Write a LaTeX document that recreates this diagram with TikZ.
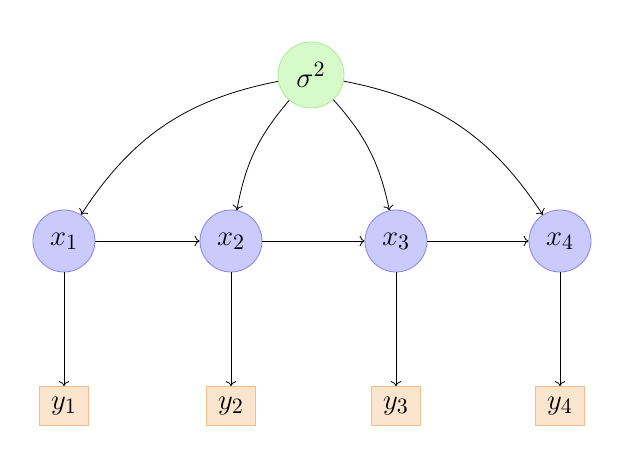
\documentclass[tikz,border=0pt]{standalone}
\usetikzlibrary{arrows.meta}
\definecolor{sfill}{RGB}{214,250,202}
\definecolor{sdraw}{RGB}{172,234,150}
\definecolor{xfill}{RGB}{202,202,252}
\definecolor{xdraw}{RGB}{132,132,228}
\definecolor{yfill}{RGB}{251,229,206}
\definecolor{ydraw}{RGB}{242,190,136}
\begin{document}
\begin{tikzpicture}[x=1pt,y=1pt,
  hyper/.style={circle,draw=sdraw,fill=sfill,minimum size=33pt,inner sep=0pt,font=\fontsize{15}{18}\selectfont},
  latent/.style={circle,draw=xdraw,fill=xfill,minimum size=31pt,inner sep=0pt,font=\fontsize{15}{18}\selectfont},
  obs/.style={rectangle,draw=ydraw,fill=yfill,minimum width=24.5pt,minimum height=19.5pt,inner sep=0pt,font=\fontsize{15}{18}\selectfont},
  conn/.style={->,line width=0.4pt}]
\useasboundingbox (0,0) rectangle (309,233.5);
\node[hyper] (s) at (155.5,196) {$\sigma^2$};
\node[latent] (x1) at (32,113) {$x_1$};
\node[latent] (x2) at (115.5,113) {$x_2$};
\node[latent] (x3) at (198,113) {$x_3$};
\node[latent] (x4) at (280,113) {$x_4$};
\node[obs] (y1) at (32,30.5) {$y_1$};
\node[obs] (y2) at (115.5,30.5) {$y_2$};
\node[obs] (y3) at (198,30.5) {$y_3$};
\node[obs] (y4) at (280,30.5) {$y_4$};
\draw[conn] (s) to[bend right=23] (x1);
\draw[conn] (s) to[bend right=15] (x2);
\draw[conn] (s) to[bend left=15] (x3);
\draw[conn] (s) to[bend left=23] (x4);
\draw[conn] (x1) -- (x2);
\draw[conn] (x2) -- (x3);
\draw[conn] (x3) -- (x4);
\draw[conn] (x1) -- (y1);
\draw[conn] (x2) -- (y2);
\draw[conn] (x3) -- (y3);
\draw[conn] (x4) -- (y4);
\end{tikzpicture}
\end{document}
